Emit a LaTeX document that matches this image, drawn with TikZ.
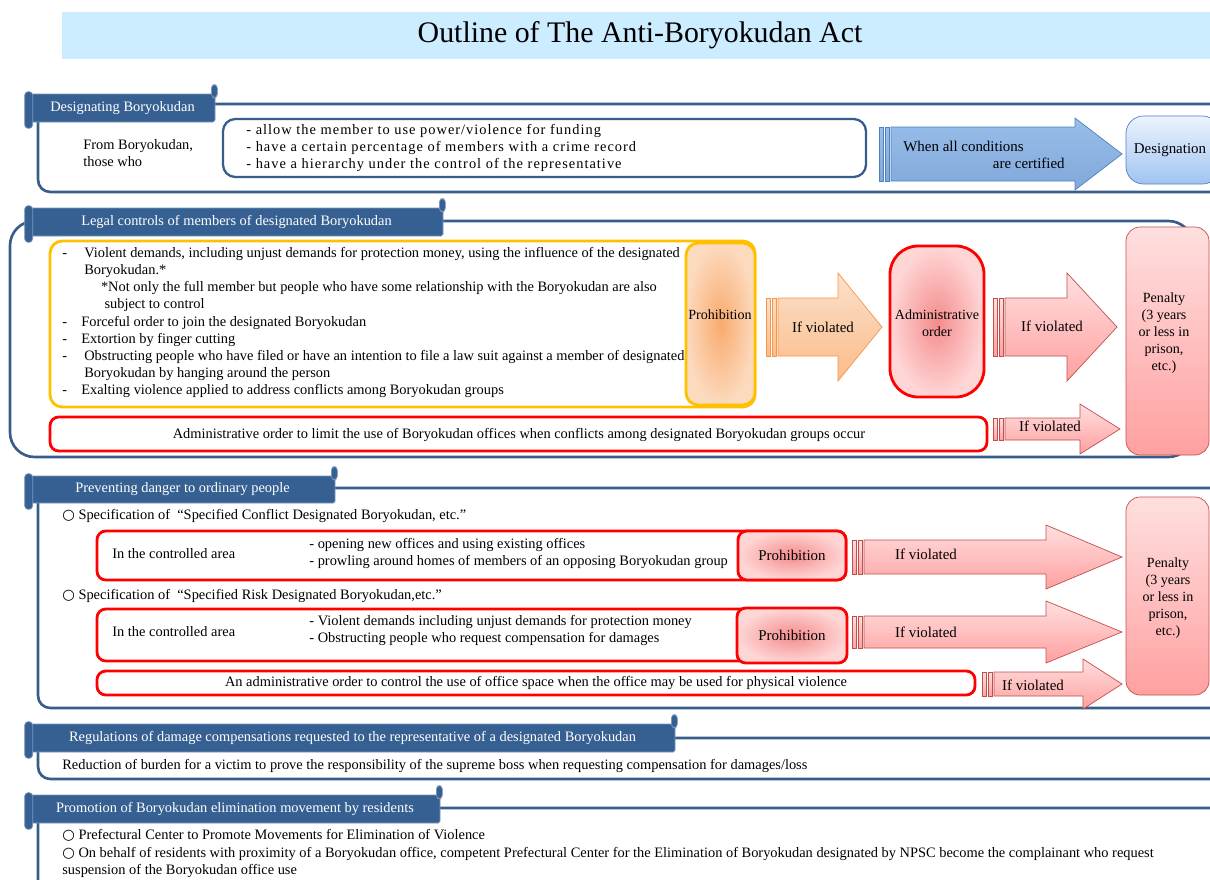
\documentclass[tikz,border=0pt]{standalone}
\usepackage{fontspec}
\setmainfont{Liberation Serif}
\newfontfamily\spacedfont[LetterSpace=7]{Liberation Serif}
\newfontfamily\symfont{DejaVu Sans}
\usetikzlibrary{positioning,fit}

\definecolor{frameblue}{RGB}{56,93,138}
\definecolor{tabblue}{RGB}{55,96,146}
\definecolor{tabedge}{RGB}{120,150,190}
\definecolor{titleblue}{RGB}{204,236,255}
\definecolor{amber}{RGB}{255,192,0}
\definecolor{orangein}{RGB}{249,170,110}
\definecolor{orangeout}{RGB}{252,218,190}
\definecolor{orangeedge}{RGB}{247,150,70}
\definecolor{peachtop}{RGB}{252,224,202}
\definecolor{peachbot}{RGB}{250,188,138}
\definecolor{redin}{RGB}{244,140,140}
\definecolor{redout}{RGB}{255,214,214}
\definecolor{pinktop}{RGB}{255,223,223}
\definecolor{pinkbot}{RGB}{255,160,160}
\definecolor{pinkedge}{RGB}{192,80,77}
\definecolor{arrowtop}{RGB}{152,190,234}
\definecolor{arrowbot}{RGB}{128,168,218}
\definecolor{desigedge}{RGB}{79,129,189}
\definecolor{desigtop}{RGB}{236,244,255}
\definecolor{desigbot}{RGB}{160,196,240}

\newcommand{\bodysize}{\fontsize{8.2}{9.7}\selectfont}
\newcommand{\boxsize}{\fontsize{8.5}{9.7}\selectfont}
\newcommand{\narrowsize}{\fontsize{8}{9.7}\selectfont}
\newcommand{\ring}{{\symfont ○}}
% fat arrow: style, x stripes, x head, x tip, y mid, half body, half head
\newcommand{\fatarrow}[7]{%
  \foreach \d in {0,6}
    \draw[#1] (#2+\d,#5-#6) rectangle (#2+\d+4,#5+#6);
  \draw[#1] (#2+12,#5-#6) -- (#3,#5-#6) -- (#3,#5-#7) -- (#4,#5)
    -- (#3,#5+#7) -- (#3,#5+#6) -- (#2+12,#5+#6) -- cycle;}

\begin{document}
\begin{tikzpicture}[x=0.02cm,y=-0.02cm,font=\bodysize,inner sep=0pt]
  \tikzstyle{frame}=[draw=frameblue, line width=1.5pt, rounded corners=7pt]
  \tikzstyle{tab}=[fill=tabblue, draw=tabedge, thin, rounded corners=1pt]
  \tikzstyle{tabtext}=[text=white]
  \tikzstyle{curl}=[fill=tabblue, draw=tabedge, thin, rounded corners=2pt]
  \tikzstyle{condbox}=[draw=frameblue, line width=1.3pt, rounded corners=7pt, fill=white]
  \tikzstyle{yellowbox}=[draw=amber, line width=1.6pt, rounded corners=7pt]
  \tikzstyle{redbox}=[draw=red, line width=1.6pt, rounded corners=5pt, fill=white]
  \tikzstyle{prohibo}=[yellowbox, inner color=orangein, outer color=orangeout]
  \tikzstyle{prohibr}=[redbox, inner color=redin, outer color=redout]
  \tikzstyle{penalty}=[draw=pinkedge, thin, rounded corners=8pt, top color=pinktop, bottom color=pinkbot]
  \tikzstyle{desig}=[draw=desigedge, thin, rounded corners=10pt, top color=desigtop, bottom color=desigbot]
  \tikzstyle{boxtext}=[align=center, font=\boxsize]
  \tikzstyle{narrowtext}=[align=center, font=\narrowsize]
  \tikzstyle{bluearrow}=[draw=desigedge, thin, top color=arrowtop, bottom color=arrowbot]
  \tikzstyle{orangearrow}=[draw=orangeedge, thin, top color=peachtop, bottom color=peachbot]
  \tikzstyle{pinkarrow}=[draw=pinkedge, thin, top color=pinktop, bottom color=pinkbot]
  \useasboundingbox (0,0) rectangle (1210,879);
  \clip (0,0) rectangle (1210,879);

  % title
  \node[fill=titleblue, fit={(62,12) (1212,59)}] (title) {};
  \node[font=\fontsize{17}{20}\selectfont] at (640,35) {Outline of The Anti-Boryokudan Act};

  % section frames
  \draw[frame] (38,104) rectangle (1240,192);
  \draw[frame, rounded corners=14pt] (10,221) rectangle (1193,457);
  \draw[frame] (38,488) rectangle (1240,708);
  \draw[frame] (38,738) rectangle (1240,779);
  \draw[frame] (38,808) rectangle (1240,920);

  % tabs
  \node[tab, fit={(30,94) (215,122)}] (tabdes) {};
  \node[tab, fit={(30,208) (443,236)}] (tablegal) {};
  \node[tab, fit={(30,476) (335,503)}] (tabdanger) {};
  \node[tab, fit={(30,724) (675,752)}] (tabdamage) {};
  \node[tab, fit={(30,795) (440,823)}] (tabresid) {};
  \foreach \t in {tabdes,tablegal,tabdanger,tabdamage,tabresid} {
    \draw[curl] ([shift={(-4,-9)}]\t.north east) rectangle ([shift={(2,4)}]\t.north east);
    \draw[curl] ([shift={(-5,-2)}]\t.north west) rectangle ([shift={(3,6)}]\t.south west);
  }
  \node[tabtext] at (tabdes) {Designating Boryokudan};
  \node[tabtext] at (tablegal) {Legal controls of members of designated Boryokudan};
  \node[tabtext] at (tabdanger) {Preventing danger to ordinary people};
  \node[tabtext] at (tabdamage) {Regulations of damage compensations requested to the representative of a designated Boryokudan};
  \node[tabtext] at (tabresid) {Promotion of Boryokudan elimination movement by residents};

  % designating
  \node[anchor=west, align=left] (from) at (83,153) {From Boryokudan,\\those who};
  \node[condbox, fit={(223,119) (866,177)}] (cond) {};
  \node[anchor=west, align=left, font=\spacedfont\fontsize{8.2}{9.7}\selectfont] (condtext) at (246,148)
    {- allow the member to use power/violence for funding\\
     - have a certain percentage of members with a crime record\\
     - have a hierarchy under the control of the representative};
  \fatarrow{bluearrow}{879}{1075}{1122}{154}{27}{36}
  \node[anchor=west, font=\boxsize] (certa) at (903,146) {When all conditions};
  \node[anchor=east, font=\boxsize] (certb) at (1065,163) {are certified};
  \node[desig, fit={(1126,116) (1220,184)}] (desig) {};
  \node[boxtext] at (1170,150) {Designation};

  % legal controls
  \node[yellowbox, fit={(50,241) (755,407)}] (ctrl) {};
  \node[prohibo, fit={(686,243) (755,405)}] (prohib) {};
  \node[narrowtext] at (720,315) {Prohibition};
  \node[anchor=west, align=left] (ctrltext) at (62,322.5) {%
    \makebox[12.5pt][l]{-}Violent demands, including unjust demands for protection money, using the influence of the designated\\
    \hspace*{12.5pt}Boryokudan.*\\
    \hspace*{22pt}*Not only the full member but people who have some relationship with the Boryokudan are also\\
    \hspace*{24pt}subject to control\\
    \makebox[10.8pt][l]{-}Forceful order to join the designated Boryokudan\\
    \makebox[10.8pt][l]{-}Extortion by finger cutting\\
    \makebox[12.5pt][l]{-}Obstructing people who have filed or have an intention to file a law suit against a member of designated\\
    \hspace*{12.5pt}Boryokudan by hanging around the person\\
    \makebox[10.8pt][l]{-}Exalting violence applied to address conflicts among Boryokudan groups};
  \fatarrow{orangearrow}{766}{838}{882}{327}{29}{54}
  \node[boxtext] (viol1) at (823,327) {If violated};
  \node[prohibr, fit={(890,246) (984,397)}, rounded corners=16pt] (admin) {};
  \node[narrowtext] at (937,323) {Administrative\\order};
  \fatarrow{pinkarrow}{993}{1067}{1117}{327}{29}{54}
  \node[boxtext] (viol2) at (1052,326) {If violated};
  \node[redbox, fit={(50,417) (987,451)}] (limit) {};
  \node at (519,435) {Administrative order to limit the use of Boryokudan offices when conflicts among designated Boryokudan groups occur};
  \fatarrow{pinkarrow}{993}{1080}{1120}{429}{11}{25}
  \node[boxtext] (viol3) at (1050,426) {If violated};
  \node[penalty, fit={(1126,227) (1209,455)}] (pen1) {};
  \node[narrowtext] at (1164,333) {Penalty\\(3 years\\or less in\\prison,\\etc.)};

  % preventing danger
  \node[anchor=west] (spec1) at (62,516) {\ring\ Specification of \ “Specified Conflict Designated Boryokudan, etc.”};
  \node[redbox, fit={(97,531) (846,580)}] (area1) {};
  \node[anchor=west] (areatxt1) at (112,554) {In the controlled area};
  \node[anchor=west, align=left] (acts1) at (309,553.5) {- opening new offices and using existing offices\\- prowling around homes of members of an opposing Boryokudan group};
  \node[prohibr, fit={(738,531) (846,580)}] (prohib1) {};
  \node[boxtext] at (prohib1) {Prohibition};
  \fatarrow{pinkarrow}{852}{1046}{1122}{557}{17}{32}
  \node[boxtext] (viol4) at (926,554) {If violated};

  \node[anchor=west] (spec2) at (62,596) {\ring\ Specification of \ “Specified Risk Designated Boryokudan,etc.”};
  \node[redbox, fit={(97,609) (846,661)}] (area2) {};
  \node[anchor=west] (areatxt2) at (112,632) {In the controlled area};
  \node[anchor=west, align=left] (acts2) at (309,630) {- Violent demands including unjust demands for protection money\\- Obstructing people who request compensation for damages};
  \node[prohibr, fit={(737,608) (847,663)}] (prohib2) {};
  \node[boxtext] at (prohib2) {Prohibition};
  \fatarrow{pinkarrow}{852}{1046}{1122}{632}{16}{31}
  \node[boxtext] (viol5) at (926,632) {If violated};

  \node[redbox, fit={(97,671) (975,695)}] (office) {};
  \node at (office) {An administrative order to control the use of office space when the office may be used for physical violence};
  \fatarrow{pinkarrow}{982}{1083}{1122}{684}{12}{25}
  \node[boxtext] (viol6) at (1033,685) {If violated};
  \node[penalty, fit={(1126,497) (1209,695)}] (pen2) {};
  \node[narrowtext] at (1168,598) {Penalty\\(3 years\\or less in\\prison,\\etc.)};

  % damage compensation
  \node[anchor=west] (burden) at (62,766) {Reduction of burden for a victim to prove the responsibility of the supreme boss when requesting compensation for damages/loss};

  % residents
  \node[anchor=west, align=left] (center) at (62,853.5) {\ring\ Prefectural Center to Promote Movements for Elimination of Violence\\
    \ring\ On behalf of residents with proximity of a Boryokudan office, competent Prefectural Center for the Elimination of Boryokudan designated by NPSC become the complainant who request\\
    suspension of the Boryokudan office use};
\end{tikzpicture}
\end{document}
